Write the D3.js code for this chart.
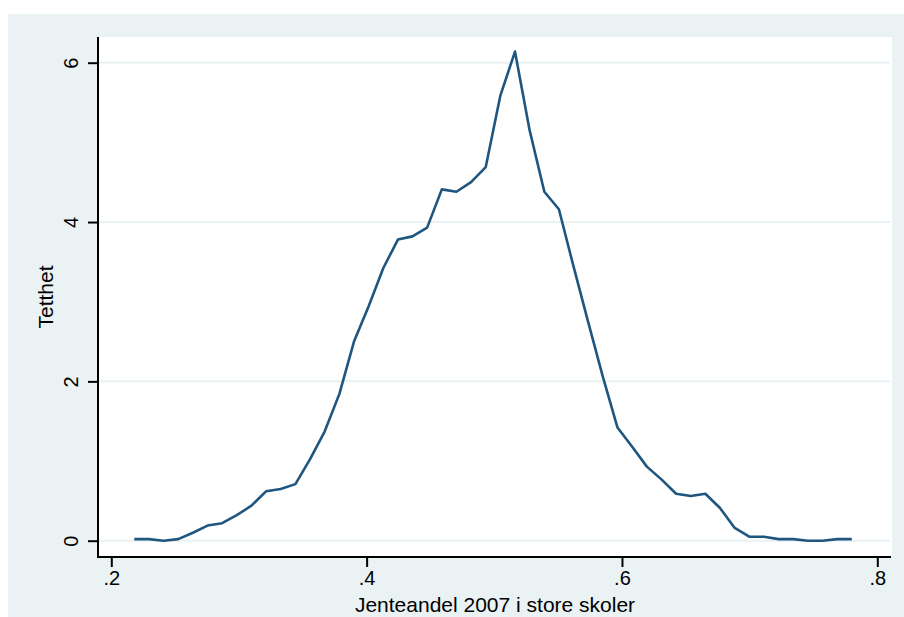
<!DOCTYPE html>
<html>
<head>
<meta charset="utf-8">
<script src="https://cdn.jsdelivr.net/npm/d3@7"></script>
<style>
  html, body { margin: 0; padding: 0; background: #ffffff; }
  svg { display: block; }
  text { font-family: "Liberation Sans", Arial, Helvetica, sans-serif; fill: #000; }
</style>
</head>
<body>
<svg id="chart" width="904" height="617"></svg>
<script>
// ---- data ----
const xValues = [0.2180, 0.2295, 0.2409, 0.2524, 0.2639, 0.2754, 0.2868, 0.2983, 0.3098, 0.3212,
                 0.3327, 0.3442, 0.3556, 0.3671, 0.3786, 0.3901, 0.4015, 0.4130, 0.4245, 0.4359,
                 0.4474, 0.4589, 0.4703, 0.4818, 0.4933, 0.5048, 0.5162, 0.5277, 0.5392, 0.5506,
                 0.5621, 0.5736, 0.5850, 0.5965, 0.6080, 0.6195, 0.6309, 0.6424, 0.6539, 0.6653,
                 0.6768, 0.6883, 0.6997, 0.7112, 0.7227, 0.7342, 0.7456, 0.7571, 0.7686, 0.7800];
const density = [0.02, 0.02, 0.00, 0.02, 0.10, 0.19, 0.22, 0.32, 0.44, 0.62,
                 0.65, 0.71, 1.02, 1.37, 1.84, 2.50, 2.94, 3.42, 3.78, 3.82,
                 3.93, 4.41, 4.38, 4.50, 4.69, 5.59, 6.14, 5.15, 4.38, 4.16,
                 3.44, 2.74, 2.06, 1.42, 1.18, 0.93, 0.77, 0.59, 0.56, 0.59,
                 0.41, 0.16, 0.05, 0.05, 0.02, 0.02, 0.00, 0.00, 0.02, 0.02];
const xTicks = [0.2, 0.4, 0.6, 0.8];
const xTickLabels = [".2", ".4", ".6", ".8"];
const yTicks = [0, 2, 4, 6];
const yTickLabels = ["0", "2", "4", "6"];
const xTitle = "Jenteandel 2007 i store skoler";
const yTitle = "Tetthet";

// ---- layout ----
const svg = d3.select("#chart");
const bg = "#eaf2f3";
const plot = { left: 98, right: 892, top: 37, bottom: 557 };

svg.append("rect").attr("x", 8).attr("y", 14).attr("width", 896).attr("height", 603).attr("fill", bg);
svg.append("rect").attr("x", plot.left).attr("y", plot.top)
   .attr("width", plot.right - plot.left).attr("height", plot.bottom - plot.top).attr("fill", "#ffffff");

const x = d3.scaleLinear().domain([0.2, 0.8]).range([111.3, 877.3]);
const y = d3.scaleLinear().domain([0, 6]).range([540.7, 62.7]);

// gridlines
svg.append("g").selectAll("line").data(yTicks).join("line")
  .attr("x1", plot.left + 1).attr("x2", plot.right - 2)
  .attr("y1", d => y(d)).attr("y2", d => y(d))
  .attr("stroke", bg).attr("stroke-width", 2);

// density line
const line = d3.line().x((d, i) => x(xValues[i])).y(d => y(d));
svg.append("path").datum(density)
  .attr("d", line).attr("fill", "none")
  .attr("stroke", "#1f5680").attr("stroke-width", 2.6).attr("stroke-linejoin", "round");

// y axis
const yAxis = d3.axisLeft(y).tickValues(yTicks).tickSize(10).tickPadding(10)
  .tickFormat((d, i) => yTickLabels[i]);
const gy = svg.append("g").attr("transform", `translate(${plot.left},0)`).call(yAxis);
gy.select(".domain").remove();
gy.selectAll(".tick line").attr("stroke", "#000").attr("stroke-width", 2);
gy.selectAll(".tick text")
  .attr("font-size", 20)
  .attr("x", null).attr("dy", null)
  .attr("text-anchor", "middle")
  .attr("transform", "translate(-20.5,0) rotate(-90)");
svg.append("line").attr("x1", plot.left).attr("x2", plot.left)
  .attr("y1", plot.top).attr("y2", plot.bottom + 1)
  .attr("stroke", "#000").attr("stroke-width", 2);

// x axis
const xAxis = d3.axisBottom(x).tickValues(xTicks).tickSize(10).tickPadding(6)
  .tickFormat((d, i) => xTickLabels[i]);
const gx = svg.append("g").attr("transform", `translate(0,${plot.bottom})`).call(xAxis);
gx.select(".domain").remove();
gx.selectAll(".tick line").attr("stroke", "#000").attr("stroke-width", 2);
gx.selectAll(".tick text").attr("font-size", 20).attr("y", 27.5).attr("dy", null);
svg.append("line").attr("x1", plot.left - 1).attr("x2", plot.right - 1)
  .attr("y1", plot.bottom).attr("y2", plot.bottom)
  .attr("stroke", "#000").attr("stroke-width", 2);

// titles
svg.append("text").attr("x", (plot.left + plot.right) / 2).attr("y", 612)
  .attr("text-anchor", "middle").attr("font-size", 21).text(xTitle);
svg.append("text").attr("transform", `translate(53,${(plot.top + plot.bottom) / 2}) rotate(-90)`)
  .attr("text-anchor", "middle").attr("font-size", 21).text(yTitle);
</script>
</body>
</html>
